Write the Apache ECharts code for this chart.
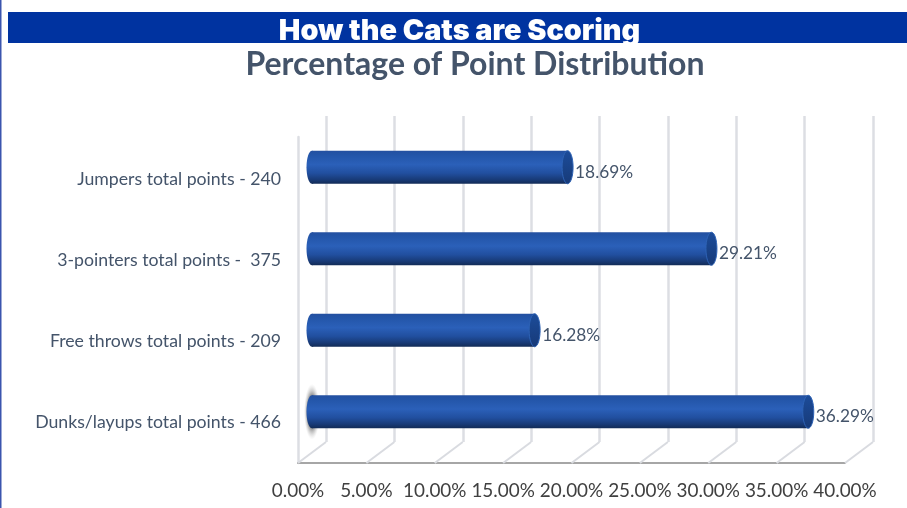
<!DOCTYPE html>
<html><head><meta charset="utf-8">
<style>html,body{margin:0;padding:0;background:#fff}#c{width:907px;height:508px}</style>
<script src="https://cdn.jsdelivr.net/npm/echarts@6/dist/echarts.min.js"></script>
</head><body><div id="c"></div>
<script>
const categories = ['Jumpers total points - 240','3-pointers total points -  375','Free throws total points - 209','Dunks/layups total points - 466'];
const percentages = [18.69, 29.21, 16.28, 36.29];
const valueTicks = [0,5,10,15,20,25,30,35,40];
const depthX = 28, depthY = 21;

const bodyGrad = () => new echarts.graphic.LinearGradient(0,0,0,1,[
  {offset:0,color:'#2450A0'},{offset:0.12,color:'#2355A8'},{offset:0.42,color:'#2B60B9'},
  {offset:0.68,color:'#214F9F'},{offset:0.88,color:'#183A76'},{offset:1,color:'#122B56'}]);
const capGrad = () => new echarts.graphic.LinearGradient(0,0,0,1,[
  {offset:0,color:'#1C4C9A'},{offset:1,color:'#173A78'}]);

function renderBar(params, api){
  const i = api.value(0), v = api.value(1);
  const p0 = api.coord([0,i]), p1 = api.coord([v,i]);
  const h = 33, rx = 5.5, cy = p0[1], ry = h/2;
  const kids = [];
  if (i === categories.length-1) {
    kids.push({type:'circle',shape:{cx:p0[0],cy:cy,r:8},
      originX:p0[0],originY:cy,scaleY:3.5,
      style:{fill:new echarts.graphic.RadialGradient(0.5,0.5,0.5,[
        {offset:0,color:'rgba(60,60,60,0.95)'},{offset:0.55,color:'rgba(100,100,100,0.8)'},
        {offset:1,color:'rgba(200,200,200,0)'}])}});
  }
  kids.push({type:'ellipse',shape:{cx:p0[0],cy:cy,rx:rx,ry:ry},style:{fill:bodyGrad()}});
  kids.push({type:'rect',shape:{x:p0[0],y:cy-ry,width:p1[0]-p0[0],height:h},style:{fill:bodyGrad()}});
  kids.push({type:'ellipse',shape:{cx:p1[0],cy:cy,rx:rx,ry:ry},style:{fill:capGrad(),stroke:'#2D62B5',lineWidth:1}});
  kids.push({type:'text',style:{text:v.toFixed(2)+'%',x:p1[0]+rx+2,y:cy+5,
    font:'17.3px Lato',fill:'#44546A',align:'left',verticalAlign:'middle'}});
  return {type:'group',children:kids};
}
function renderFloor(params, api){
  const x = api.coord([api.value(0),0])[0];
  const b = params.coordSys.y + params.coordSys.height;
  return {type:'line',shape:{x1:x,y1:b,x2:x+depthX,y2:b-depthY},style:{stroke:'#D9DBE0',lineWidth:2}};
}
const xBase = {type:'value',min:0,max:40,interval:5};
const hideAxis = {axisLine:{show:false},axisTick:{show:false},axisLabel:{show:false}};

const chart = echarts.init(document.getElementById('c'),null,{renderer:'canvas'});
chart.setOption({
  animation:false,
  backgroundColor:'#fff',
  graphic:[
    {type:'rect',z:0,shape:{x:8,y:12,width:899,height:31},style:{fill:'#0033A0'}},
    {type:'rect',z:0,shape:{x:0,y:0,width:1.5,height:508},style:{fill:'#3B55AE'}}
  ],
  title:[
    {text:'How the Cats are Scoring',left:454.5,top:9,textAlign:'center',
     textStyle:{color:'#fff',fontFamily:'Inter',fontWeight:900,fontSize:28.8,lineHeight:34}},
    {text:'Percentage of Point Distribution',left:470,top:41,textAlign:'center',
     textStyle:{color:'#44546A',fontFamily:'Lato',fontWeight:700,fontSize:32,lineHeight:38}}
  ],
  grid:[
    {left:298,width:547,top:137,height:326},
    {left:326,width:547,top:116,height:326},
    {left:312,width:547,top:126.5,height:326},
    {left:298,width:547,top:139,height:324}
  ],
  xAxis:[
    Object.assign({},xBase,{gridIndex:0,position:'bottom',
      axisLine:{show:true,lineStyle:{color:'#A6A6A6',width:2}},axisTick:{show:false},
      splitLine:{show:false},
      axisLabel:{color:'#404040',fontFamily:'Lato',fontSize:18.9,margin:18,
        formatter:v=>v.toFixed(2)+'%',showMinLabel:true,showMaxLabel:true,hideOverlap:false}}),
    Object.assign({},xBase,{gridIndex:1,position:'bottom',...hideAxis,
      splitLine:{show:true,lineStyle:{color:'#DCDEE3',width:2.5}}}),
    Object.assign({},xBase,{gridIndex:2,position:'bottom',...hideAxis,splitLine:{show:false}}),
    Object.assign({},xBase,{gridIndex:3,position:'bottom',...hideAxis,splitLine:{show:false}})
  ],
  yAxis:[
    {type:'category',gridIndex:0,inverse:true,data:categories,
      axisLine:{show:true,lineStyle:{color:'#DCDEE3',width:2.5}},axisTick:{show:false},
      axisLabel:{show:false}},
    {type:'category',gridIndex:1,inverse:true,data:categories,...hideAxis,splitLine:{show:false}},
    {type:'category',gridIndex:2,inverse:true,data:categories,...hideAxis,splitLine:{show:false}},
    {type:'category',gridIndex:3,inverse:true,data:categories,
      axisLine:{show:false},axisTick:{show:false},splitLine:{show:false},
      axisLabel:{color:'#44546A',fontFamily:'Lato',fontSize:17.7,margin:17}}
  ],
  series:[
    {type:'custom',xAxisIndex:0,yAxisIndex:0,z:1,silent:true,renderItem:renderFloor,encode:{x:0},
     data:valueTicks.map(v=>[v])},
    {type:'custom',xAxisIndex:2,yAxisIndex:2,z:5,silent:true,renderItem:renderBar,encode:{x:1,y:0},
     data:percentages.map((v,i)=>[i,v])}
  ]
});
</script></body></html>
